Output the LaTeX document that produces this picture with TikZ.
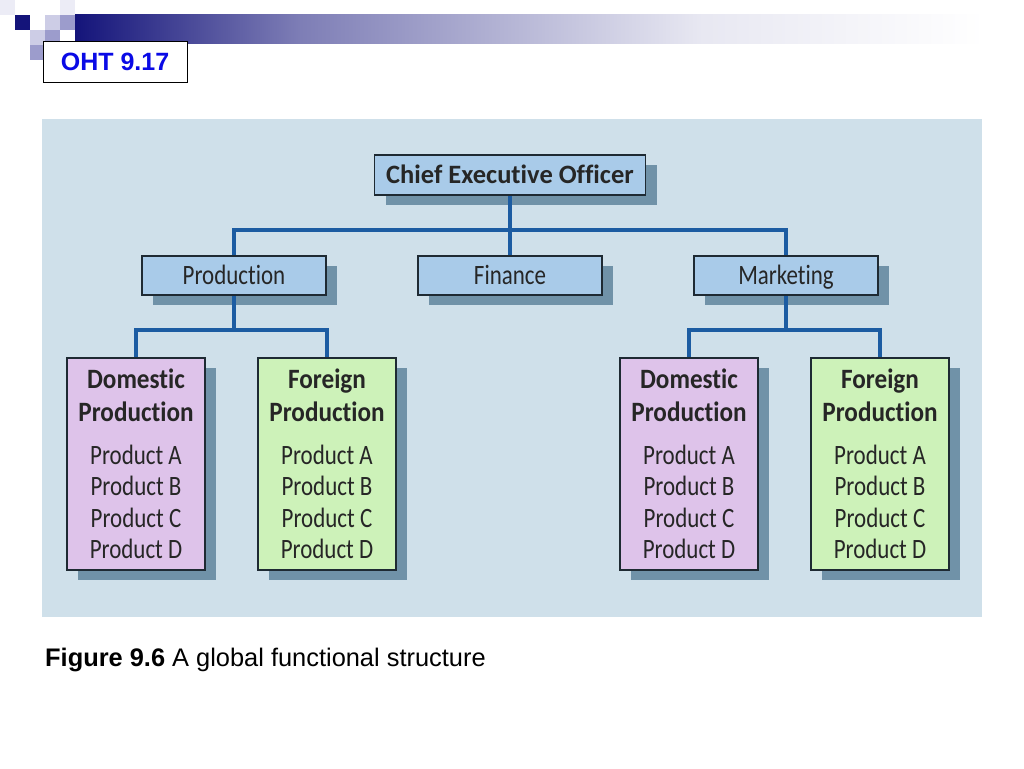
\documentclass[tikz,border=0pt]{standalone}
\usepackage{fontspec}
\setmainfont{Carlito}[Ligatures=NoCommon]
\newfontfamily\arialfont{Liberation Sans}
\newfontfamily\unitfont[FakeStretch=0.82,Ligatures=NoCommon]{Carlito}
\newfontfamily\headfont[FakeStretch=0.9,Ligatures=NoCommon]{Carlito}
\usetikzlibrary{positioning,shadows}

\definecolor{panelblue}{HTML}{CFE0EA}
\definecolor{unitblue}{HTML}{A9CBE9}
\definecolor{shadowblue}{HTML}{7092A8}
\definecolor{linkblue}{HTML}{1C5CA2}
\definecolor{boxline}{HTML}{1E2A33}
\definecolor{domlilac}{HTML}{DEC3EA}
\definecolor{forgreen}{HTML}{CDF2B9}
\definecolor{navy}{HTML}{14147A}
\definecolor{ohtblue}{HTML}{0A0AE6}
\definecolor{sqpale}{HTML}{ECECF6}
\definecolor{sqlight}{HTML}{CDCDE6}
\definecolor{sqmid}{HTML}{9C9CCC}

\newcommand{\divtext}[1]{{\headfont\bfseries #1}\\[1.5pt]{\headfont\bfseries Production}\\[11.5pt]Product A\\Product B\\Product C\\Product D}

\begin{document}
\begin{tikzpicture}[x=1pt,y=-1pt,
    unit/.style={draw=boxline,line width=1.5pt,fill=unitblue,text=black!85,
      font=\unitfont\fontsize{28}{31.5}\selectfont,inner sep=0pt,
      text height=18pt,text depth=0pt,
      minimum width=184pt,minimum height=39pt,
      drop shadow={shadow xshift=11pt,shadow yshift=-10pt,fill=shadowblue,opacity=1}},
    division/.style={unit,minimum width=138pt,minimum height=212pt,align=center,
      text height=,text depth=},
    link/.style={draw=linkblue,line width=3.4pt}]
  \useasboundingbox (0,0) rectangle (1024,768);
  \fill[white] (0,0) rectangle (1024,768);

  % title bar
  \fill[sqpale] (0,0) rectangle (15,15);
  \fill[navy] (15,15) rectangle (30,30);
  \fill[sqlight] (45,15) rectangle (60,30);
  \fill[sqmid] (60,15) rectangle (75,30);
  \fill[sqlight] (30,30) rectangle (45,45);
  \fill[sqmid] (45,30) rectangle (60,45);
  \fill[sqmid] (30,45) rectangle (45,60);
  \fill[sqpale] (60,0) rectangle (75,15);
  \shade[left color=navy,right color=navy!55!white] (75,15) rectangle (300,44);
  \shade[left color=navy!55!white,right color=navy!10!white] (300,15) rectangle (700,44);
  \shade[left color=navy!10!white,right color=white] (700,15) rectangle (985,44);
  \node[draw=black,line width=1pt,fill=white,minimum width=144pt,minimum height=40pt,
    font=\arialfont\bfseries\fontsize{25}{28}\selectfont,text=ohtblue] (oht) at (115,62) {OHT 9.17};

  % panel
  \fill[panelblue] (42,119) rectangle (982,617);

  \node[unit,minimum width=271pt,minimum height=40pt,text height=17pt,
    font=\bfseries\fontsize{26.5}{30}\selectfont] (ceo) at (510,175) {Chief Executive Officer};
  \node[unit] (prod) at (234,275.5) {Production};
  \node[unit] (fin) at (510,275.5) {Finance};
  \node[unit] (mkt) at (786,275.5) {Marketing};

  \node[division,fill=domlilac] (dom1) at (136,464) {\divtext{Domestic}};
  \node[division,fill=forgreen] (for1) at (327,464) {\divtext{Foreign}};
  \node[division,fill=domlilac] (dom2) at (689,464) {\divtext{Domestic}};
  \node[division,fill=forgreen] (for2) at (880,464) {\divtext{Foreign}};

  \coordinate (top) at (510,230);
  \coordinate (pj) at (234,330);
  \coordinate (mj) at (786,330);

  \draw[link] (ceo.south) -- (fin.north);
  \draw[link] (prod.north) |- (top) -| (mkt.north);
  \draw[link] (prod.south) -- (pj);
  \draw[link] (dom1.north) |- (pj) -| (for1.north);
  \draw[link] (mkt.south) -- (mj);
  \draw[link] (dom2.north) |- (mj) -| (for2.north);

  \node[anchor=base west,font=\arialfont\fontsize{25.4}{28}\selectfont,inner sep=0pt] (cap) at (45,666)
    {\textbf{Figure 9.6} A global functional structure};
\end{tikzpicture}
\end{document}
